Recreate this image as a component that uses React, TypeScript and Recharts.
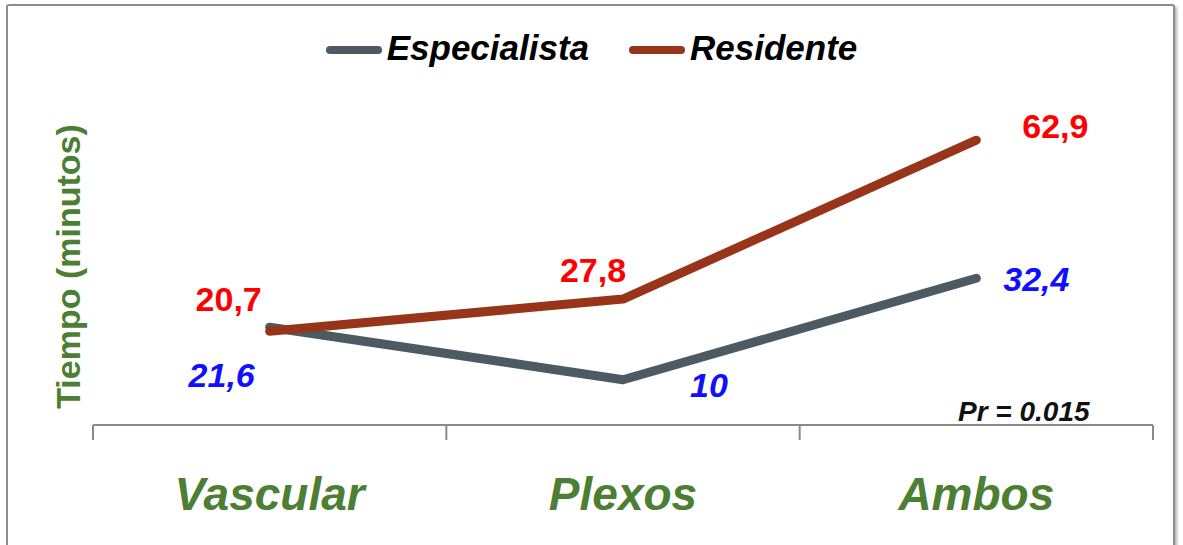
import { LineChart, Line, XAxis, YAxis, Legend, LabelList } from "recharts";

const categories = ["Vascular", "Plexos", "Ambos"];
const especialista = [21.6, 10, 32.4];
const residente = [20.7, 27.8, 62.9];
const seriesNames = ["Especialista", "Residente"];
const yTitle = "Tiempo (minutos)";
const pNote = "Pr = 0.015";

const data = categories.map((name, i) => ({
  name,
  especialista: especialista[i],
  residente: residente[i],
}));

const W = 1183;
const H = 545;
const margin = { top: 108, right: 30, bottom: 90, left: 0 };
const yAxisWidth = 93;
const band = (W - margin.left - margin.right - yAxisWidth) / categories.length;

const FONT = '"Liberation Sans", Arial, sans-serif';
const GREEN = "#4c7f34";
const ESP_COLOR = "#4b5b61";
const RES_COLOR = "#97341a";

// where each value label sits relative to its point (text baseline)
const espOffsets = [[-48, 60], [86, 17], [60, 13]];
const resOffsets = [[-41, -20], [-30, -17], [79, -2]];

const fmt = (v: number) => String(v).replace(".", ",");

function makeLabel(offsets: number[][], color: string, italic: boolean) {
  return (props: any) => {
    const { x, y, value, index } = props;
    const [dx, dy] = offsets[index] || [0, 0];
    return (
      <text
        x={x + dx}
        y={y + dy}
        textAnchor="middle"
        fill={color}
        fontFamily={FONT}
        fontSize={34}
        fontWeight="bold"
        fontStyle={italic ? "italic" : "normal"}
      >
        {fmt(value)}
      </text>
    );
  };
}

function CategoryTick(props: any) {
  const { x, y, payload, index } = props;
  const half = band / 2;
  return (
    <g>
      <line x1={x - half} y1={y} x2={x - half} y2={y + 15} stroke="#8a8a8a" strokeWidth={2} />
      {index === categories.length - 1 && (
        <line x1={x + half} y1={y} x2={x + half} y2={y + 15} stroke="#8a8a8a" strokeWidth={2} />
      )}
      <text
        x={x}
        y={y + 85}
        textAnchor="middle"
        fill={GREEN}
        fontFamily={FONT}
        fontSize={46}
        fontWeight="bold"
        fontStyle="italic"
      >
        {payload.value}
      </text>
    </g>
  );
}

function YTitle() {
  const cy = margin.top + (H - margin.top - margin.bottom - 30) / 2;
  return (
    <text
      x={80}
      y={cy}
      transform={`rotate(-90, 80, ${cy})`}
      textAnchor="middle"
      fill={GREEN}
      fontFamily={FONT}
      fontSize={34}
      fontWeight="bold"
    >
      {yTitle}
    </text>
  );
}

function LegendContent(props: any) {
  const { payload } = props;
  return (
    <div
      style={{
        display: "flex",
        justifyContent: "center",
        gap: 40,
        fontFamily: FONT,
        fontSize: 35,
        fontWeight: "bold",
        fontStyle: "italic",
        color: "#000",
      }}
    >
      {(payload || []).map((p: any) => (
        <span key={p.value} style={{ display: "flex", alignItems: "center" }}>
          <span
            style={{
              display: "inline-block",
              width: 56,
              height: 8,
              borderRadius: 4,
              background: p.color,
              marginRight: 5,
              marginTop: 4,
            }}
          />
          {p.value}
        </span>
      ))}
    </div>
  );
}

export default function App() {
  return (
    <div
      style={{
        position: "fixed",
        left: 0,
        top: 0,
        width: W,
        height: H,
        overflow: "hidden",
        background: "#fff",
      }}
    >
      <div style={{ position: "absolute", left: 0, top: 0 }}>
        <LineChart width={W} height={H} data={data} margin={margin}>
          <XAxis
            dataKey="name"
            height={30}
            padding={{ left: band / 2, right: band / 2 }}
            axisLine={{ stroke: "#8a8a8a", strokeWidth: 2 }}
            tickLine={false}
            tickSize={0}
            tickMargin={0}
            tick={<CategoryTick />}
            interval={0}
          />
          <YAxis
            width={yAxisWidth}
            domain={[0, 70]}
            tick={false}
            tickLine={false}
            axisLine={false}
            label={<YTitle />}
          />
          <Legend
            verticalAlign="middle"
            content={<LegendContent />}
            wrapperStyle={{ top: 28, left: 0, width: W }}
          />
          <Line
            type="linear"
            dataKey="especialista"
            name={seriesNames[0]}
            stroke={ESP_COLOR}
            strokeWidth={9}
            strokeLinecap="round"
            strokeLinejoin="round"
            dot={false}
            activeDot={false}
            isAnimationActive={false}
          >
            <LabelList dataKey="especialista" content={makeLabel(espOffsets, "#1010ff", true)} />
          </Line>
          <Line
            type="linear"
            dataKey="residente"
            name={seriesNames[1]}
            stroke={RES_COLOR}
            strokeWidth={9}
            strokeLinecap="round"
            strokeLinejoin="round"
            dot={false}
            activeDot={false}
            isAnimationActive={false}
          >
            <LabelList dataKey="residente" content={makeLabel(resOffsets, "#ff0000", false)} />
          </Line>
        </LineChart>
      </div>
      <div
        style={{
          position: "absolute",
          left: 958,
          top: 398,
          fontFamily: FONT,
          fontSize: 28,
          lineHeight: 1,
          fontWeight: "bold",
          fontStyle: "italic",
          color: "#111",
          whiteSpace: "nowrap",
        }}
      >
        {pNote}
      </div>
      <div
        style={{
          position: "absolute",
          left: 6,
          top: 4,
          width: 1169,
          height: 600,
          boxSizing: "border-box",
          border: "2px solid #8c8c8c",
          borderRadius: 3,
          boxShadow: "2px 2px 3px rgba(0,0,0,0.3)",
          pointerEvents: "none",
        }}
      />
    </div>
  );
}
